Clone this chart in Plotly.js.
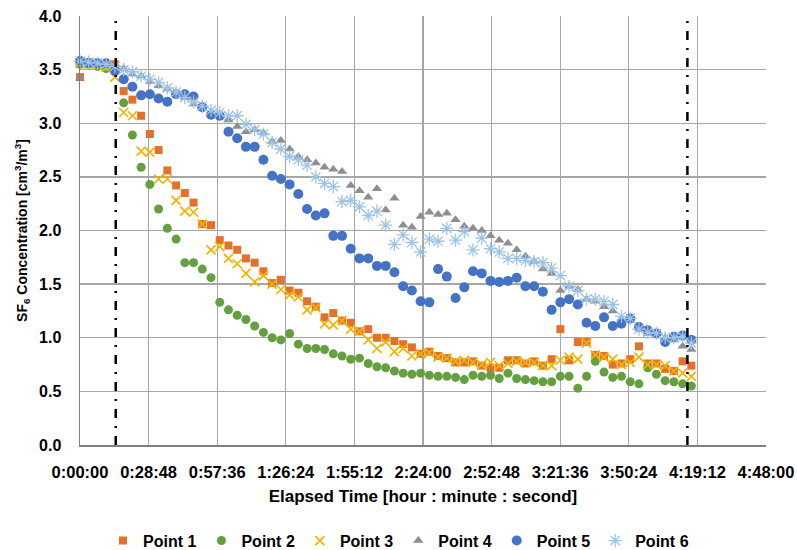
<!DOCTYPE html>
<html>
<head>
<meta charset="utf-8">
<script src="https://cdn.plot.ly/plotly-3.0.1.min.js"></script>
<style>html,body{margin:0;padding:0;background:#fff;}#chart{width:797px;height:550px;}</style>
</head>
<body>
<div id="chart"></div>
<script>
// Elapsed time of each sample, in seconds
const timeSec = [0,220,440,660,880,1100,1320,1540,1760,1980,2200,2420,2640,2860,3080,3300,3520,3740,3960,4180,
  4400,4620,4840,5060,5280,5500,5720,5940,6160,6380,6600,6820,7040,7260,7480,7700,7920,8140,8360,8580,
  8800,9020,9240,9460,9680,9900,10120,10340,10560,10780,11000,11220,11440,11660,11880,12100,12320,12540,12760,12980,
  13200,13420,13640,13860,14080,14300,14520,14740,14960,15180,15400];

const point1 = [3.43,3.57,3.56,3.55,3.55,3.30,3.22,3.07,2.90,2.75,2.56,2.42,2.35,2.26,2.06,2.05,1.91,1.86,1.82,1.74,
  1.70,1.62,1.51,1.54,1.44,1.42,1.34,1.29,1.19,1.23,1.16,1.14,1.06,1.08,1.00,1.00,0.97,0.94,0.91,0.85,
  0.87,0.83,0.81,0.77,0.77,0.78,0.74,0.72,0.72,0.79,0.79,0.76,0.78,0.74,0.80,1.08,0.79,0.96,0.96,0.84,
  0.83,0.75,0.76,0.80,0.92,0.76,0.76,0.71,0.69,0.78,0.74];
const point2 = [3.55,3.55,3.53,3.51,3.50,3.19,2.89,2.59,2.43,2.20,2.02,1.92,1.70,1.70,1.64,1.56,1.33,1.26,1.21,1.17,
  1.11,1.05,1.00,0.98,1.04,0.94,0.90,0.90,0.89,0.85,0.83,0.80,0.81,0.76,0.73,0.72,0.69,0.67,0.66,0.67,
  0.65,0.64,0.64,0.63,0.61,0.65,0.64,0.65,0.62,0.67,0.62,0.61,0.60,0.59,0.59,0.64,0.64,0.53,0.64,0.78,
  0.68,0.63,0.64,0.59,0.57,0.72,0.66,0.60,0.59,0.57,0.55];
const point3 = [3.56,3.55,3.54,3.52,3.43,3.10,3.07,2.74,2.73,2.48,2.48,2.28,2.18,2.17,2.06,1.82,1.85,1.74,1.69,1.60,
  1.52,1.58,1.50,1.45,1.40,1.38,1.26,1.28,1.13,1.12,1.16,1.08,1.06,0.98,0.90,0.96,0.87,0.90,0.83,0.85,
  0.86,0.82,0.81,0.78,0.79,0.77,0.75,0.77,0.74,0.76,0.78,0.77,0.77,0.74,0.74,0.79,0.82,0.80,0.95,0.84,
  0.82,0.80,0.75,0.77,0.82,0.75,0.75,0.74,0.69,0.67,0.64];
const point4 = [3.42,3.56,3.55,3.55,3.53,3.51,3.46,3.44,3.39,3.35,3.32,3.28,3.24,3.18,3.14,3.10,3.07,3.03,2.97,2.92,
  2.94,2.91,2.83,2.84,2.76,2.69,2.66,2.63,2.59,2.57,2.55,2.42,2.37,2.31,2.39,2.19,2.30,2.05,2.03,2.13,
  2.17,2.15,2.16,2.10,2.04,2.02,2.00,1.95,1.91,1.88,1.82,1.76,1.71,1.64,1.60,1.44,1.48,1.45,1.36,1.34,
  1.29,1.25,1.18,1.16,1.09,1.04,1.04,1.00,0.98,0.92,0.89];
const point5 = [3.58,3.56,3.56,3.56,3.49,3.41,3.34,3.26,3.27,3.23,3.20,3.27,3.27,3.25,3.15,3.08,3.07,2.92,2.86,2.78,
  2.78,2.66,2.51,2.48,2.43,2.34,2.20,2.14,2.16,1.95,1.95,1.83,1.74,1.74,1.67,1.67,1.61,1.48,1.44,1.34,
  1.33,1.64,1.57,1.37,1.47,1.62,1.60,1.53,1.52,1.53,1.56,1.48,1.48,1.43,1.26,1.33,1.36,1.31,1.14,1.11,
  1.19,1.11,1.13,1.18,1.10,1.07,1.04,0.96,1.01,1.02,0.98];
const point6 = [3.58,3.57,3.56,3.55,3.53,3.50,3.48,3.44,3.41,3.38,3.33,3.29,3.24,3.20,3.16,3.12,3.10,3.07,3.07,2.99,
  2.94,2.90,2.82,2.76,2.69,2.66,2.61,2.50,2.44,2.41,2.27,2.28,2.22,2.14,2.18,2.05,1.87,1.96,1.89,1.80,
  1.92,1.90,2.02,1.91,1.99,1.82,1.93,1.83,1.80,1.74,1.74,1.72,1.71,1.70,1.65,1.58,1.48,1.44,1.36,1.36,
  1.34,1.31,1.20,1.18,1.08,1.05,1.04,1.00,1.00,1.01,0.95];

const seriesNames = ["Point 1","Point 2","Point 3","Point 4","Point 5","Point 6"];
const tickValsSec = [0,1728,3456,5184,6912,8640,10368,12096,13824,15552,17280];
const tickLabels = ["0:00:00","0:28:48","0:57:36","1:26:24","1:55:12","2:24:00","2:52:48","3:21:36","3:50:24","4:19:12","4:48:00"];
const yTickVals = [0,0.5,1,1.5,2,2.5,3,3.5,4];
const yTickLabels = ["0.0","0.5","1.0","1.5","2.0","2.5","3.0","3.5","4.0"];
const phaseLinesSec = [900, 15300];

const FONT = "Liberation Sans, Arial, sans-serif";
const styles = [
  {symbol:"square", color:"#E2712B", size:8},
  {symbol:"circle", color:"#64A03F", size:9},
  {symbol:"x-thin-open", color:"#F2B300", size:9, lw:1.7},
  {symbol:"triangle-up", color:"#8E8E8E", size:9},
  {symbol:"circle", color:"#4472C4", size:10},
  {symbol:"asterisk-open", color:"#9DC3E6", size:11, lw:1.3}
];
const ys = [point1, point2, point3, point4, point5, point6];

const traces = ys.map((y, k) => {
  const s = styles[k];
  const marker = {symbol: s.symbol, color: s.color, size: s.size};
  if (s.lw) marker.line = {color: s.color, width: s.lw};
  else marker.line = {width: 0};
  return {type: "scatter", mode: "markers", name: seriesNames[k], x: timeSec, y: y, marker: marker, cliponaxis: false};
});

const shapes = phaseLinesSec.map(t => ({
  type: "line", xref: "x", yref: "paper", x0: t, x1: t, y0: 0, y1: 1,
  line: {color: "#000", width: 2.5, dash: "9px,8px,2px,8px"}, layer: "above"
}));

const layout = {
  width: 797, height: 550,
  margin: {l: 80, r: 31, t: 16, b: 105},
  paper_bgcolor: "#fff", plot_bgcolor: "#fff",
  font: {family: FONT, color: "#000", size: 14},
  showlegend: true,
  legend: {orientation: "h", xref: "container", yref: "container", x: 0.5, xanchor: "center", y: 0.017, yanchor: "middle",
    font: {family: FONT, size: 16, weight: "bold", color: "#000"}, itemwidth: 30, tracegroupgap: 0},
  xaxis: {
    range: [0, 17280], tickmode: "array", tickvals: tickValsSec, ticktext: tickLabels,
    showgrid: true, gridcolor: "#A6A6A6", gridwidth: 1.3, automargin: false,
    showline: true, linecolor: "#7F7F7F", linewidth: 1.5, mirror: false,
    zeroline: false, ticks: "", ticklen: 0, ticklabelstandoff: 12,
    tickfont: {family: FONT, size: 16.5, weight: "bold", color: "#000"},
    title: {text: "Elapsed Time [hour : minute : second]", standoff: 10,
      font: {family: FONT, size: 17, weight: "bold", color: "#000"}}
  },
  yaxis: {
    range: [0, 4], tickmode: "array", tickvals: yTickVals, ticktext: yTickLabels,
    showgrid: true, gridcolor: "#A6A6A6", gridwidth: 1.3, automargin: false,
    showline: true, linecolor: "#7F7F7F", linewidth: 1.5,
    zeroline: false, ticks: "", ticklen: 0, ticklabelstandoff: 14,
    tickfont: {family: FONT, size: 16, weight: "bold", color: "#000"},
    title: {text: "SF<sub>6</sub> Concentration [cm<sup>3</sup>/m<sup>3</sup>]", standoff: 8,
      font: {family: FONT, size: 14, weight: "bold", color: "#000"}}
  },
  shapes: shapes
};

Plotly.newPlot("chart", traces, layout, {displayModeBar: false, staticPlot: true});
</script>
</body>
</html>
